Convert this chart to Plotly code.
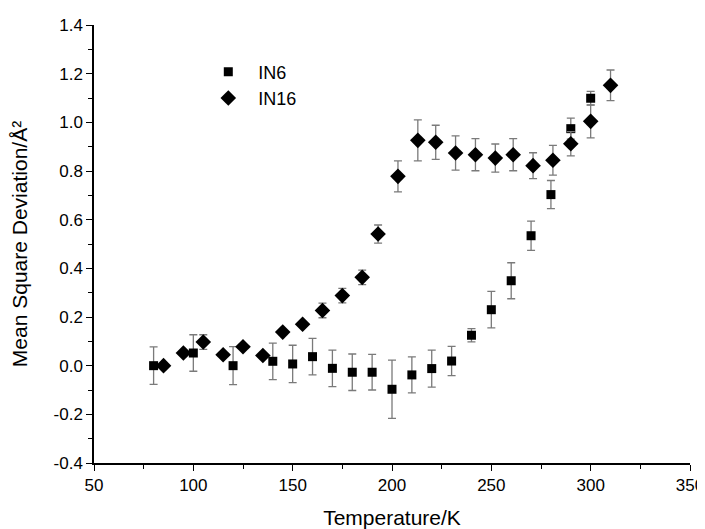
import plotly.graph_objects as go

# IN6 data (squares)
in6_temp = [80, 100, 120, 140, 150, 160, 170, 180, 190, 200, 210, 220, 230, 240, 250, 260, 270, 280, 290, 300]
in6_msd = [0.0, 0.052, 0.0, 0.018, 0.007, 0.037, -0.011, -0.027, -0.027, -0.097, -0.038, -0.012, 0.019, 0.125,
           0.230, 0.349, 0.534, 0.703, 0.974, 1.099]
in6_err = [0.077, 0.075, 0.078, 0.075, 0.077, 0.075, 0.075, 0.075, 0.073, 0.12, 0.074, 0.076, 0.06, 0.027,
           0.075, 0.074, 0.06, 0.058, 0.043, 0.028]

# IN16 data (diamonds)
in16_temp = [85, 95, 105, 115, 125, 135, 145, 155, 165, 175, 185, 193, 203, 213, 222, 232, 242, 252, 261, 271,
             281, 290, 300, 310]
in16_msd = [0.0, 0.052, 0.097, 0.045, 0.078, 0.042, 0.138, 0.170, 0.227, 0.288, 0.363, 0.541, 0.778, 0.926,
            0.918, 0.874, 0.867, 0.853, 0.867, 0.822, 0.844, 0.912, 1.004, 1.152]
in16_err = [0.0, 0.0, 0.03, 0.0, 0.0, 0.0, 0.0, 0.0, 0.03, 0.03, 0.03, 0.037, 0.064, 0.084,
            0.07, 0.07, 0.066, 0.058, 0.066, 0.053, 0.061, 0.05, 0.068, 0.063]

y_ticks = [-0.4, -0.2, 0.0, 0.2, 0.4, 0.6, 0.8, 1.0, 1.2, 1.4]
y_ticklabels = ["-0.4", "-0.2", "0.0", "0.2", "0.4", "0.6", "0.8", "1.0", "1.2", "1.4"]
x_ticks = [50, 100, 150, 200, 250, 300, 350]

FONT = "Liberation Sans, Arial, sans-serif"

fig = go.Figure()

fig.add_trace(go.Scatter(
    name="IN6", x=in6_temp, y=in6_msd, mode="markers",
    marker=dict(symbol="square", size=9, color="black"),
    error_y=dict(type="data", array=in6_err, color="#7a7a7a", thickness=1.3, width=4),
))
fig.add_trace(go.Scatter(
    name="IN16", x=in16_temp, y=in16_msd, mode="markers",
    marker=dict(symbol="diamond", size=12, color="black"),
    error_y=dict(type="data", array=in16_err, color="#7a7a7a", thickness=1.3, width=4),
))

# page body has an 8px margin, so margins are offset to land the axes where the reference has them
fig.update_layout(
    width=697, height=521,
    margin=dict(l=86, r=15, t=17, b=66),
    plot_bgcolor="white", paper_bgcolor="white",
    font=dict(family=FONT, size=17, color="black"),
    showlegend=True,
    legend=dict(x=0.175, y=0.935, xanchor="left", yanchor="top",
                font=dict(size=18), bgcolor="rgba(0,0,0,0)", itemwidth=50, tracegroupgap=0),
)

fig.update_xaxes(
    range=[50, 350], tickvals=x_ticks, showgrid=False, zeroline=False, automargin=False,
    ticklabeloverflow="allow",
    showline=True, linecolor="black", linewidth=1.5,
    ticks="outside", ticklen=6, tickwidth=1.3, tickcolor="black",
    minor=dict(ticks="outside", ticklen=4, dtick=25, tickcolor="black", tickwidth=1.2, showgrid=False),
    title=dict(text="Temperature/K", font=dict(size=21), standoff=16),
)
fig.update_yaxes(
    range=[-0.4, 1.4], tickvals=y_ticks, ticktext=y_ticklabels, showgrid=False, zeroline=False,
    automargin=False,
    showline=True, linecolor="black", linewidth=1.5,
    ticks="outside", ticklen=6, tickwidth=1.3, tickcolor="black",
    minor=dict(ticks="outside", ticklen=4, dtick=0.1, tickcolor="black", tickwidth=1.2, showgrid=False),
    title=dict(text="Mean Square Deviation/Å²", font=dict(size=21), standoff=22),
)

fig.write_html("out.html")
